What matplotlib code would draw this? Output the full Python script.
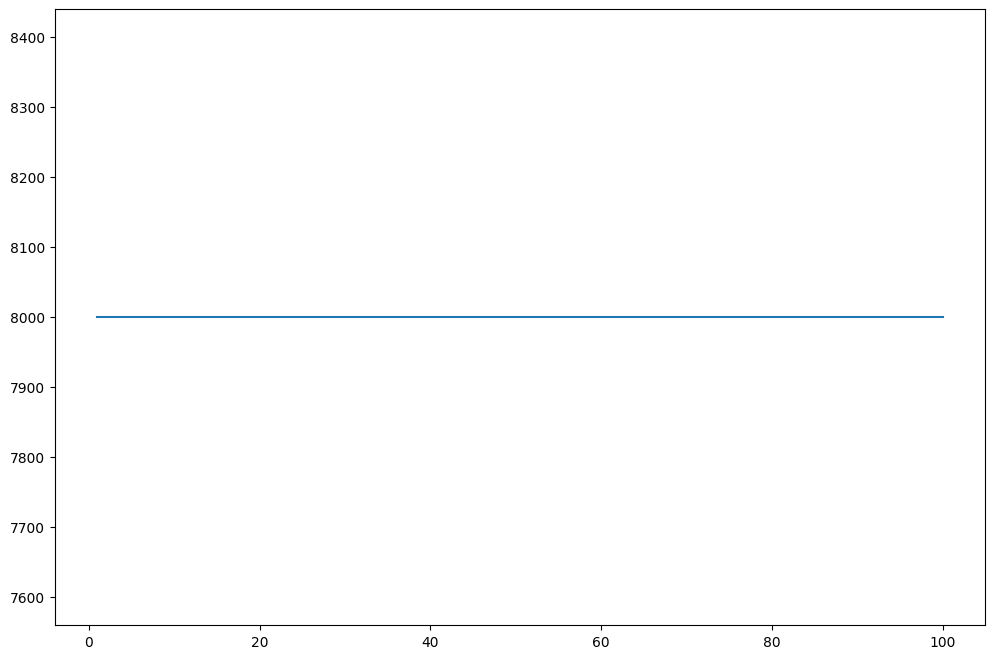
import matplotlib
matplotlib.use("Agg")
import matplotlib.pyplot as plt

# constant series: starts at step 1, ends at step 100, flat at 8000
steps = [1, 100]
values = [8000, 8000]

fig, ax = plt.subplots(figsize=(12, 8), dpi=100)
ax.plot(steps, values)

fig.savefig("out.png", dpi=100, bbox_inches="tight")
